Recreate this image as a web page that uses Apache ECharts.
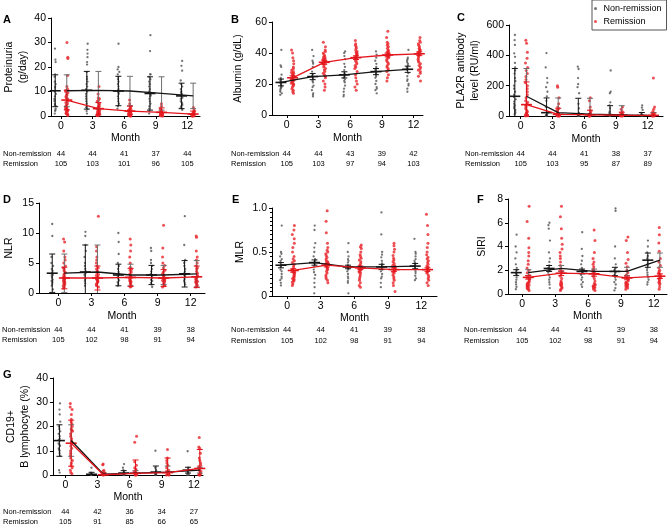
<!DOCTYPE html>
<html><head><meta charset="utf-8">
<script src="https://cdn.jsdelivr.net/npm/echarts@6/dist/echarts.min.js"></script>
<style>html,body{margin:0;padding:0;background:#fff}#c{width:669px;height:527px}</style>
</head><body><div id="c"></div><script>
// ---------------- DATA ----------------
const months = [0, 3, 6, 9, 12];
const monthTickLabels = ['0', '3', '6', '9', '12'];
const rowLabels = ['Non-remission', 'Remission'];

// A: Proteinuria (g/day)
const A_nonRemission = [
  [27.5, 23, 22, 17, 16, 14, 13, 12, 11.5, 10.5, 10, 9, 8, 7, 6.5, 6, 5, 4.5, 4, 3, 2.5, 2, 1],
  [29.5, 27, 25.5, 24, 22, 21, 18, 16, 15, 14, 13, 12, 11, 10, 9, 8, 7, 6, 5, 4, 3.5, 3, 2, 1],
  [29.5, 20, 19, 18, 17, 16, 15, 14, 13, 12, 11, 10.5, 10, 9.5, 9, 8, 7, 6, 5, 4, 3],
  [33, 26.5, 17, 17, 16, 15, 14, 13, 12, 11, 10, 9, 8.5, 8, 7, 6, 5, 4, 3, 2, 1],
  [22.5, 20.5, 18.5, 14.5, 13, 12, 11, 10, 9.5, 9, 8.5, 8, 7.5, 7, 6, 5.5, 5, 4.5, 4, 3.5, 3, 2.5]
];
const A_remission = [
  [30, 24, 23.5, 16.5, 12, 11, 10.5, 10, 9.5, 9, 8.5, 8, 7.5, 7, 6.5, 6, 5.5, 5, 4.5, 4, 3.8, 3.5, 3.2, 3, 2.8, 2.5, 2.2, 2, 1.8, 1.5, 1.2, 1, 0.8, 0.5, 0.2],
  [12, 9, 7.5, 7, 6.5, 6, 5.5, 5, 4.5, 4.2, 4, 3.8, 3.5, 3.2, 3, 2.8, 2.6, 2.4, 2.2, 2, 1.8, 1.6, 1.4, 1.2, 1, 0.8, 0.6, 0.4, 0.2, 0.1, 1.5, 1, 0.5, 0.3],
  [6.5, 5, 4, 3.5, 3, 2.8, 2.5, 2.2, 2, 1.8, 1.6, 1.4, 1.2, 1, 0.9, 0.8, 0.7, 0.6, 0.5, 0.4, 0.3, 0.2, 0.1, 0.1, 0.05, 1.1, 0.7, 0.4, 0.2, 0.1],
  [5, 4, 3, 2.5, 2, 1.8, 1.6, 1.4, 1.2, 1, 0.9, 0.8, 0.7, 0.6, 0.5, 0.4, 0.3, 0.2, 0.1, 0.1, 0.05, 0.9, 0.6, 0.3, 0.2, 0.1],
  [3.5, 2.5, 2, 1.5, 1.2, 1, 0.8, 0.7, 0.6, 0.5, 0.4, 0.3, 0.25, 0.2, 0.15, 0.1, 0.1, 0.05, 0.05, 0.9, 0.6, 0.4, 0.3, 0.2, 0.1]
];
const A_nonRemissionMean = [10.3, 10.5, 10.2, 9.2, 8.2];
const A_nonRemissionErr = [6.5, 7.7, 6.0, 6.8, 5.2];
const A_remissionMean = [6.5, 3.0, 2.0, 1.5, 0.8];
const A_remissionErr = [4, 2.5, 2, 1.8, 1.2];
const A_nonRemissionN = [44, 44, 41, 37, 44];
const A_remissionN = [105, 103, 101, 96, 105];

// B: Albumin (g/dL)
const B_nonRemission = [
  [42, 32, 31, 26, 24, 23, 22, 21, 20.5, 20, 19, 18.5, 18, 17.5, 17, 16, 15, 14, 13],
  [42, 38, 35, 34, 33, 31, 28, 26, 25, 24, 23, 22, 21, 19, 18, 16, 14, 13, 12],
  [41, 40, 38, 36, 33, 31, 29, 27, 26, 25, 24, 23, 22, 21, 19, 17, 15, 13, 12],
  [41, 39, 37, 35, 33, 31, 30, 29, 28, 27, 26, 25, 24, 22, 20, 18, 17, 16, 14],
  [42, 37, 36, 35, 34, 33, 32, 31, 30, 29, 27, 25, 23, 22, 20, 19, 17, 15]
];
const B_remission = [
  [42, 40, 37, 35, 33, 31, 30, 29, 28, 27.5, 27, 26.5, 26, 25.5, 25, 24.5, 24, 23.5, 23, 22.5, 22, 21.5, 21, 20.5, 20, 19.5, 19, 18, 17, 16, 15, 14],
  [47, 44, 42, 41, 40, 39, 38, 37.5, 37, 36.5, 36, 35.5, 35, 34.5, 34, 33.5, 33, 32, 31, 30, 29, 28, 27, 26, 25, 24, 22, 20, 18, 16],
  [48, 46, 45, 44, 43, 42, 41, 40.5, 40, 39.5, 39, 38.5, 38, 37.5, 37, 36.5, 36, 35, 34, 33, 32, 31, 30, 28, 26, 24, 22, 20, 18, 16],
  [54, 50, 47, 46, 45, 44, 43, 42, 41.5, 41, 40.5, 40, 39.5, 39, 38.5, 38, 37.5, 37, 36, 35, 34, 33, 32, 31, 30, 29, 28, 26, 24, 22],
  [50, 48, 47, 46, 45, 44, 43, 42.5, 42, 41.5, 41, 40.5, 40, 39.5, 39, 38.5, 38, 37, 36, 35, 34, 33, 32, 31, 30, 29, 28, 27, 25, 22]
];
const B_nonRemissionMean = [21, 24.8, 25.9, 28, 29.5];
const B_nonRemissionErr = [2.2, 2, 2, 2, 2];
const B_remissionMean = [24, 34, 37, 38.7, 39.5];
const B_remissionErr = [1.3, 1.3, 1.2, 1.2, 1.2];
const B_nonRemissionN = [44, 44, 43, 39, 42];
const B_remissionN = [105, 103, 97, 94, 103];

// C: PLA2R antibody level (RU/ml)
const C_nonRemission = [
  [534, 500, 468, 413, 390, 350, 320, 300, 280, 250, 230, 200, 180, 160, 140, 125, 110, 95, 80, 70, 60, 50, 40, 30, 20, 10],
  [415, 320, 250, 220, 190, 160, 130, 100, 60, 30, 15, 8, 5, 3, 2, 1],
  [325, 310, 250, 210, 190, 150, 80, 50, 20, 10, 5, 3, 2, 1],
  [300, 160, 150, 90, 70, 50, 30, 20, 10, 5, 3, 2, 1],
  [70, 55, 40, 20, 8, 5, 3, 2, 1]
];
const C_remission = [
  [500, 480, 420, 380, 350, 320, 300, 280, 260, 240, 220, 200, 180, 160, 140, 120, 100, 90, 80, 70, 60, 50, 40, 30, 25, 20, 15, 10, 5, 3, 2, 1, 12, 8, 4, 2],
  [200, 190, 120, 80, 60, 50, 40, 30, 20, 15, 10, 8, 5, 3, 2, 1, 1, 0.5, 4, 2, 1],
  [120, 100, 60, 40, 30, 20, 15, 10, 8, 5, 3, 2, 1, 1, 0.5, 4, 2, 1],
  [60, 45, 30, 20, 15, 10, 8, 5, 3, 2, 1, 0.5, 4, 2, 1],
  [250, 60, 45, 30, 20, 15, 10, 8, 5, 3, 2, 1, 0.5, 4, 2, 1]
];
const C_nonRemissionMean = [130, 22, 12, 8, 3];
const C_nonRemissionErr = [183, 97, 105, 60, 20];
const C_remissionMean = [75, 11, 8, 5, 4];
const C_remissionErr = [150, 40, 30, 20, 15];
const C_nonRemissionN = [44, 44, 41, 38, 37];
const C_remissionN = [105, 103, 95, 87, 89];

// D: NLR
const D_nonRemission = [
  [11.5, 9.5, 6, 5, 4.5, 4, 3.7, 3.4, 3.2, 3, 2.8, 2.5, 2.2, 2, 1.8, 1.5, 1.2, 0.6],
  [10.2, 9.5, 8, 7, 6, 5, 4.5, 4, 3.6, 3.2, 3, 2.6, 2.3, 2, 1.6, 1.2],
  [10, 8.5, 6.5, 5, 4.5, 4, 3.5, 3.2, 3, 2.7, 2.4, 2.1, 1.8, 1.5, 1.2],
  [7.5, 7, 5.5, 5, 4.5, 4, 3.6, 3.2, 3, 2.8, 2.5, 2.2, 2, 1.7, 1.4, 1],
  [12.8, 8, 5.5, 5, 4.5, 4, 3.6, 3.3, 3, 2.8, 2.6, 2.3, 2, 1.7, 1.4]
];
const D_remission = [
  [9, 8.5, 7, 6, 5.5, 5, 4.5, 4.2, 4, 3.7, 3.4, 3.2, 3, 2.8, 2.6, 2.5, 2.4, 2.3, 2.2, 2.1, 2, 1.9, 1.8, 1.7, 1.6, 1.5, 1.4, 1.2, 1, 0.8],
  [12.8, 7.7, 7, 6, 5.5, 5, 4.5, 4.2, 4, 3.7, 3.4, 3.1, 2.9, 2.7, 2.5, 2.4, 2.3, 2.2, 2.1, 2, 1.9, 1.8, 1.6, 1.4, 1.2, 1],
  [9, 8, 7, 6, 5, 4.3, 4, 3.8, 3.5, 3.2, 3, 2.8, 2.6, 2.4, 2.2, 2.1, 2, 1.9, 1.8, 1.7, 1.5, 1.3, 1.1, 1],
  [11.3, 7.5, 6, 5, 4.6, 4.2, 3.8, 3.5, 3.2, 3, 2.8, 2.6, 2.4, 2.3, 2.2, 2.1, 2, 1.9, 1.8, 1.6, 1.4, 1.2, 1],
  [9.5, 9.3, 7, 6, 5.5, 5, 4.5, 4.2, 4, 3.6, 3.3, 3, 2.8, 2.6, 2.4, 2.2, 2.1, 2, 1.9, 1.8, 1.7, 1.5, 1.3, 1.1, 1]
];
const D_nonRemissionMean = [3.3, 3.5, 3.0, 3.0, 3.2];
const D_nonRemissionErr = [3.2, 4.5, 1.8, 1.6, 2.2];
const D_remissionMean = [2.5, 2.5, 2.6, 2.5, 2.7];
const D_remissionErr = [1.8, 2.0, 1.5, 1.4, 1.8];
const D_nonRemissionN = [44, 44, 41, 39, 38];
const D_remissionN = [105, 102, 98, 91, 94];

// E: MLR
const E_nonRemission = [
  [0.8, 0.5, 0.48, 0.45, 0.42, 0.4, 0.38, 0.35, 0.33, 0.3, 0.28, 0.25, 0.22, 0.2, 0.18, 0.15, 0.12],
  [0.8, 0.75, 0.6, 0.55, 0.5, 0.45, 0.42, 0.4, 0.38, 0.36, 0.34, 0.3, 0.27, 0.24, 0.2, 0.15, 0.1, 0.03],
  [0.6, 0.5, 0.45, 0.42, 0.4, 0.38, 0.35, 0.33, 0.31, 0.3, 0.28, 0.25, 0.22, 0.2, 0.17, 0.15, 0.03],
  [0.95, 0.7, 0.5, 0.47, 0.44, 0.4, 0.37, 0.35, 0.32, 0.3, 0.28, 0.25, 0.22, 0.2, 0.15, 0.1],
  [0.65, 0.5, 0.48, 0.45, 0.42, 0.4, 0.38, 0.36, 0.34, 0.32, 0.3, 0.28, 0.26, 0.23, 0.2, 0.18]
];
const E_remission = [
  [0.8, 0.75, 0.7, 0.65, 0.6, 0.55, 0.5, 0.45, 0.42, 0.4, 0.38, 0.36, 0.34, 0.32, 0.3, 0.29, 0.28, 0.27, 0.26, 0.25, 0.24, 0.23, 0.22, 0.21, 0.2, 0.19, 0.18, 0.17, 0.16, 0.14, 0.12],
  [0.97, 0.85, 0.72, 0.6, 0.55, 0.52, 0.5, 0.48, 0.46, 0.44, 0.42, 0.4, 0.39, 0.38, 0.37, 0.36, 0.35, 0.34, 0.33, 0.32, 0.31, 0.3, 0.28, 0.26, 0.24, 0.22, 0.2, 0.18, 0.15],
  [0.58, 0.56, 0.54, 0.5, 0.47, 0.45, 0.43, 0.41, 0.39, 0.37, 0.35, 0.34, 0.33, 0.32, 0.31, 0.3, 0.29, 0.28, 0.27, 0.26, 0.24, 0.22, 0.2, 0.18, 0.15, 0.12, 0.1],
  [0.6, 0.57, 0.53, 0.5, 0.46, 0.43, 0.41, 0.39, 0.37, 0.35, 0.34, 0.33, 0.32, 0.31, 0.3, 0.29, 0.28, 0.27, 0.26, 0.24, 0.22, 0.2, 0.18, 0.15, 0.12, 0.05],
  [0.93, 0.8, 0.7, 0.6, 0.55, 0.5, 0.47, 0.44, 0.42, 0.4, 0.38, 0.36, 0.34, 0.33, 0.32, 0.31, 0.3, 0.29, 0.28, 0.27, 0.26, 0.24, 0.22, 0.2, 0.18, 0.15, 0.12]
];
const E_nonRemissionMean = [0.35, 0.38, 0.33, 0.33, 0.34];
const E_nonRemissionErr = [0.03, 0.03, 0.02, 0.03, 0.03];
const E_remissionMean = [0.29, 0.35, 0.32, 0.30, 0.30];
const E_remissionErr = [0.02, 0.02, 0.02, 0.02, 0.02];
const E_nonRemissionN = [44, 44, 41, 39, 38];
const E_remissionN = [105, 102, 98, 91, 94];

// F: SIRI
const F_nonRemission = [
  [5, 4, 3.5, 3, 2.5, 2.2, 2, 1.8, 1.7, 1.6, 1.4, 1.2, 1, 0.8, 0.6, 0.4],
  [6, 5.8, 5.5, 4.5, 3.5, 3, 2.7, 2.4, 2.2, 2.1, 2, 1.8, 1.6, 1.4, 1.2, 1, 0.8, 0.5],
  [5.2, 3.8, 3.2, 2.8, 2.5, 2.2, 2, 1.9, 1.8, 1.6, 1.4, 1.2, 1, 0.8, 0.6],
  [7.2, 7, 4, 3, 2.5, 2.2, 2, 1.8, 1.6, 1.4, 1.2, 1, 0.8, 0.5, 0.3],
  [4.5, 4, 3.5, 3.2, 3, 2.8, 2.6, 2.4, 2.2, 2, 1.8, 1.6, 1.4, 1.2, 1, 0.8]
];
const F_remission = [
  [7.4, 6.1, 4.7, 3.9, 3.5, 3.2, 2.8, 2.5, 2.2, 2, 1.8, 1.6, 1.4, 1.3, 1.2, 1.1, 1, 0.95, 0.9, 0.85, 0.8, 0.75, 0.7, 0.65, 0.6, 0.55, 0.5, 0.45, 0.4, 0.3],
  [7.4, 6.5, 5.5, 4.7, 4.2, 3.8, 3.5, 3.2, 3, 2.7, 2.4, 2.1, 1.9, 1.8, 1.7, 1.5, 1.3, 1.1, 1, 0.9, 0.85, 0.8, 0.75, 0.7, 0.6, 0.5, 0.4, 0.3],
  [5.4, 4.5, 3.5, 3, 2.7, 2.5, 2.3, 2.1, 2, 1.9, 1.8, 1.7, 1.5, 1.3, 1.1, 0.9, 0.8, 0.75, 0.7, 0.65, 0.6, 0.55, 0.5, 0.4, 0.3],
  [4.8, 4.5, 3.5, 2.9, 2.6, 2.3, 2, 1.8, 1.6, 1.4, 1.2, 1.1, 1, 0.95, 0.9, 0.85, 0.8, 0.75, 0.7, 0.65, 0.6, 0.5, 0.4],
  [5.6, 5, 4.3, 3.6, 3, 2.7, 2.4, 2.2, 2, 1.9, 1.8, 1.7, 1.6, 1.5, 1.4, 1.3, 1.2, 1.1, 1, 0.9, 0.8, 0.6, 0.4]
];
const F_nonRemissionMean = [1.8, 2.15, 1.9, 1.9, 2.85];
const F_nonRemissionErr = [0.25, 0.25, 0.2, 0.35, 0.6];
const F_remissionMean = [1.4, 1.75, 1.7, 1.35, 1.5];
const F_remissionErr = [0.15, 0.2, 0.2, 0.15, 0.2];
const F_nonRemissionN = [44, 44, 41, 39, 38];
const F_remissionN = [105, 102, 98, 91, 94];

// G: CD19+ B lymphocyte (%)
const G_nonRemission = [
  [29.5, 27, 25, 22, 20, 19, 18, 17, 16, 15, 14.5, 14, 13, 12.5, 12, 11, 10.5, 10, 9, 8, 2, 1],
  [3, 1, 0.6, 0.4, 0.3, 0.2, 0.1, 0.1, 0],
  [4.5, 3, 2, 1.5, 1, 0.6, 0.4, 0.2, 0.1, 0],
  [10, 3, 2, 1.2, 0.8, 0.5, 0.3, 0.1, 0],
  [9.8, 3, 2.2, 1.5, 1, 0.6, 0.3, 0.1, 0]
];
const G_remission = [
  [29.5, 28, 27, 25, 23, 22, 21, 20, 19, 18.5, 18, 17, 16, 15, 14, 13.5, 13, 12, 11, 10, 9, 8, 7, 6, 5, 4, 3, 2, 1, 0.5],
  [4.5, 4.2, 2, 1.5, 1, 0.7, 0.5, 0.3, 0.2, 0.1, 0.1, 0],
  [16, 13.5, 5.5, 4, 3, 2.5, 2, 1.5, 1, 0.7, 0.5, 0.3, 0.2, 0.1, 0, 0],
  [10.5, 7, 6, 5, 4, 3, 2, 1.5, 1, 0.7, 0.5, 0.3, 0.2, 0.1, 0, 0],
  [15.5, 11.5, 11, 9, 7, 6, 5, 4, 3.5, 3, 2.5, 2, 1.5, 1, 0.5, 0.3, 0.1, 0, 0]
];
const G_nonRemissionMean = [14.2, 0.3, 0.8, 1.2, 2.0];
const G_nonRemissionErr = [6.5, 0.8, 1.0, 2.5, 1.2];
const G_remissionMean = [13.1, 0.1, 0.7, 1.0, 2.7];
const G_remissionErr = [9.5, 0.8, 5.5, 6.0, 7.8];
const G_nonRemissionN = [44, 42, 36, 34, 27];
const G_remissionN = [105, 91, 85, 66, 65];

// ---------------- BUILD ----------------
const panelData = {
  A: {nr: A_nonRemission, r: A_remission, nrMean: A_nonRemissionMean, nrErr: A_nonRemissionErr, rMean: A_remissionMean, rErr: A_remissionErr, nrN: A_nonRemissionN, rN: A_remissionN},
  B: {nr: B_nonRemission, r: B_remission, nrMean: B_nonRemissionMean, nrErr: B_nonRemissionErr, rMean: B_remissionMean, rErr: B_remissionErr, nrN: B_nonRemissionN, rN: B_remissionN},
  C: {nr: C_nonRemission, r: C_remission, nrMean: C_nonRemissionMean, nrErr: C_nonRemissionErr, rMean: C_remissionMean, rErr: C_remissionErr, nrN: C_nonRemissionN, rN: C_remissionN},
  D: {nr: D_nonRemission, r: D_remission, nrMean: D_nonRemissionMean, nrErr: D_nonRemissionErr, rMean: D_remissionMean, rErr: D_remissionErr, nrN: D_nonRemissionN, rN: D_remissionN},
  E: {nr: E_nonRemission, r: E_remission, nrMean: E_nonRemissionMean, nrErr: E_nonRemissionErr, rMean: E_remissionMean, rErr: E_remissionErr, nrN: E_nonRemissionN, rN: E_remissionN},
  F: {nr: F_nonRemission, r: F_remission, nrMean: F_nonRemissionMean, nrErr: F_nonRemissionErr, rMean: F_remissionMean, rErr: F_remissionErr, nrN: F_nonRemissionN, rN: F_remissionN},
  G: {nr: G_nonRemission, r: G_remission, nrMean: G_nonRemissionMean, nrErr: G_nonRemissionErr, rMean: G_remissionMean, rErr: G_remissionErr, nrN: G_nonRemissionN, rN: G_remissionN}
};

const layout = [
  {key: 'A', left: 51, top: 18, width: 149, height: 98, xMin: -0.95, xMax: 13.2, yMax: 40, yInt: 10, yName: 'Proteinuria\n(g/day)', yNameGap: 18, monthGap: 16, countOff: [34, 44], rowX: 3, letterX: 3, letterY: 14, lineMode: 'red', lineBars: true},
  {key: 'B', left: 272, top: 22, width: 151, height: 93, xMin: -1.4, xMax: 12.9, yMax: 60, yInt: 20, yName: 'Albumin (g/dL)', yNameGap: 27, monthGap: 18, countOff: [34.5, 44.5], rowX: 231, letterX: 231, letterY: 14, lineMode: 'own', lineBars: false},
  {key: 'C', left: 509, top: 25, width: 154, height: 91, xMin: -1.1, xMax: 13.45, yMax: 600, yInt: 200, yName: 'PLA2R antibody\nlevel (RU/ml)', yNameGap: 23, monthGap: 18, countOff: [34, 44], rowX: 465, letterX: 457, letterY: 12, lineMode: 'red', lineBars: true},
  {key: 'D', left: 39, top: 203, width: 166, height: 90, xMin: -1.75, xMax: 13.3, yMax: 15, yInt: 5, yName: 'NLR', yNameGap: 23, monthGap: 17.5, countOff: [32.7, 43.4], rowX: 2, letterX: 3, letterY: 194, lineMode: 'red', lineBars: true},
  {key: 'E', left: 272, top: 208, width: 165, height: 88, xMin: -1.35, xMax: 13.4, yMax: 1, yInt: 0.5, yName: 'MLR', yNameGap: 25, monthGap: 15, countOff: [30.3, 41], rowX: 231, letterX: 232, letterY: 194, lineMode: 'own', lineBars: false, minor: true, yFmt: function (v) { return v === 0 ? '0' : v.toFixed(1); }},
  {key: 'F', left: 508, top: 199, width: 159, height: 95, xMin: -1.3, xMax: 13.2, yMax: 8, yInt: 2, yName: 'SIRI', yNameGap: 19, monthGap: 17, countOff: [32, 42.7], rowX: 464, letterX: 477, letterY: 194, lineMode: 'red', lineBars: true},
  {key: 'G', left: 53, top: 378, width: 150, height: 97, xMin: -1.15, xMax: 12.85, yMax: 40, yInt: 10, yName: 'CD19+\nB lymphocyte (%)', yNameGap: 20, monthGap: 16, countOff: [32.7, 42.7], rowX: 3, letterX: 3, letterY: 369, lineMode: 'red', lineBars: true}
];

const FONT = '"Liberation Sans", Arial, Helvetica, sans-serif';
const BLACK = '#151515', RED = '#e3161d', BLACK_PT = '#505050', RED_PT = '#e8262c', BAR_GRAY = '#6e6e6e';
const STEP = 0.05, OFF_NR = -0.55, OFF_R = 0.55;

function makeBar(color, withMean) {
  return function (params, api) {
    const x = api.value(0), m = api.value(1), e = api.value(2);
    const c = api.coord([x, m]);
    const t = api.coord([x, m + e]);
    const b = api.coord([x, Math.max(m - e, 0)]);
    const st = {stroke: color, lineWidth: 1};
    const ch = [
      {type: 'line', shape: {x1: c[0], y1: t[1], x2: c[0], y2: b[1]}, style: st},
      {type: 'line', shape: {x1: c[0] - 3, y1: t[1], x2: c[0] + 3, y2: t[1]}, style: st}
    ];
    if (m - e > 0) ch.push({type: 'line', shape: {x1: c[0] - 3, y1: b[1], x2: c[0] + 3, y2: b[1]}, style: st});
    if (withMean) ch.push({type: 'line', shape: {x1: c[0] - 5.5, y1: c[1], x2: c[0] + 5.5, y2: c[1]}, style: {stroke: color, lineWidth: 1.6}});
    return {type: 'group', children: ch};
  };
}

const option = {
  animation: false,
  textStyle: {fontFamily: FONT},
  grid: [], xAxis: [], yAxis: [], series: [], graphic: [],
  legend: {
    data: ['Non-remission', 'Remission'], orient: 'vertical', left: 592, top: 0,
    icon: 'circle', itemWidth: 6, itemHeight: 3, itemGap: 2, padding: [3, 5, 3, 2],
    borderColor: '#555', borderWidth: 1, selectedMode: false,
    textStyle: {fontSize: 9, color: '#000', fontFamily: FONT, lineHeight: 11}
  }
};

layout.forEach(function (L, gi) {
  const D = panelData[L.key];
  option.grid.push({left: L.left, top: L.top, width: L.width, height: L.height, containLabel: false, outerBoundsMode: 'none'});
  const xBase = option.xAxis.length;
  // visible month axis
  option.xAxis.push({
    type: 'value', gridIndex: gi, min: L.xMin, max: L.xMax, position: 'bottom',
    axisLine: {show: true, onZero: false, lineStyle: {color: '#000', width: 1}},
    axisTick: {show: true, length: 3, customValues: months, lineStyle: {color: '#000'}},
    axisLabel: {customValues: months, formatter: function (v) { return monthTickLabels[months.indexOf(v)]; }, fontSize: 10.5, color: '#000', margin: 5},
    splitLine: {show: false},
    name: 'Month', nameLocation: 'middle', nameGap: L.monthGap, nameTextStyle: {fontSize: 10.5, color: '#000'}
  });
  // hidden category axes used for jittered dots (non-remission, remission)
  const nCat = Math.round((L.xMax - L.xMin) / STEP) + 1;
  [8, 12].forEach(function (jit) {
    option.xAxis.push({
      type: 'category', gridIndex: gi, show: false, boundaryGap: false, position: 'top',
      data: Array.from({length: nCat}, function (_, i) { return String(i); }),
      jitter: jit, jitterOverlap: false, jitterMargin: 0.2
    });
  });
  // count rows
  [D.nrN, D.rN].forEach(function (counts, k) {
    option.xAxis.push({
      type: 'value', gridIndex: gi, min: L.xMin, max: L.xMax, position: 'bottom', offset: L.countOff[k],
      axisLine: {show: false, onZero: false}, axisTick: {show: false}, splitLine: {show: false},
      axisLabel: {customValues: months, formatter: function (v) { return String(counts[months.indexOf(v)]); }, fontSize: 7.5, color: '#000', margin: 0}
    });
  });
  option.yAxis.push({
    type: 'value', gridIndex: gi, min: 0, max: L.yMax, interval: L.yInt,
    axisLine: {show: true, onZero: false, lineStyle: {color: '#000'}},
    axisTick: {show: true, length: 3, lineStyle: {color: '#000'}},
    minorTick: L.minor ? {show: true, splitNumber: 10, length: 2, lineStyle: {color: '#000'}} : {show: false},
    axisLabel: Object.assign({fontSize: 10.5, color: '#000', margin: 5}, L.yFmt ? {formatter: L.yFmt} : {}),
    splitLine: {show: false},
    name: L.yName, nameLocation: 'middle', nameRotate: 90, nameGap: L.yNameGap,
    nameTextStyle: {fontSize: 10.5, color: '#000', lineHeight: 14}
  });
  const toCat = function (x) { return Math.round((x - L.xMin) / STEP); };
  const nrPts = [], rPts = [];
  D.nr.forEach(function (vals, i) { vals.forEach(function (v) { nrPts.push([toCat(months[i] + OFF_NR), v]); }); });
  D.r.forEach(function (vals, i) { vals.forEach(function (v) { rPts.push([toCat(months[i] + OFF_R), v]); }); });
  option.series.push({type: 'scatter', name: 'Non-remission', xAxisIndex: xBase + 1, yAxisIndex: gi, data: nrPts, symbol: 'circle', symbolSize: 2.3, itemStyle: {color: BLACK_PT}, z: 2, silent: true});
  option.series.push({type: 'scatter', name: 'Remission', xAxisIndex: xBase + 2, yAxisIndex: gi, data: rPts, symbol: 'circle', symbolSize: 3, itemStyle: {color: RED_PT}, z: 2, silent: true});
  // group mean +/- error markers
  option.series.push({type: 'custom', xAxisIndex: xBase, yAxisIndex: gi, silent: true, z: 4,
    data: months.map(function (m, i) { return [m + OFF_NR, D.nrMean[i], D.nrErr[i]]; }), renderItem: makeBar(BLACK, true)});
  option.series.push({type: 'custom', xAxisIndex: xBase, yAxisIndex: gi, silent: true, z: 4,
    data: months.map(function (m, i) { return [m + OFF_R, D.rMean[i], D.rErr[i]]; }), renderItem: makeBar(RED, true)});
  // mean lines
  const lxNR = L.lineMode === 'own' ? OFF_NR : OFF_R;
  if (L.lineBars) {
    option.series.push({type: 'custom', xAxisIndex: xBase, yAxisIndex: gi, silent: true, z: 3,
      data: months.map(function (m, i) { return [m + lxNR, D.nrMean[i], D.nrErr[i]]; }), renderItem: makeBar(BAR_GRAY, false)});
  }
  option.series.push({type: 'line', xAxisIndex: xBase, yAxisIndex: gi, silent: true, z: 5, symbol: 'none', showSymbol: false,
    data: months.map(function (m, i) { return [m + lxNR, D.nrMean[i]]; }), lineStyle: {color: BLACK, width: 1.3}});
  option.series.push({type: 'line', xAxisIndex: xBase, yAxisIndex: gi, silent: true, z: 5, symbol: 'none', showSymbol: false,
    data: months.map(function (m, i) { return [m + OFF_R, D.rMean[i]]; }), lineStyle: {color: RED, width: 1.3}});
  // panel letter and count-row labels
  option.graphic.push({type: 'text', left: L.letterX, top: L.letterY, style: {text: L.key, font: 'bold 11px ' + FONT, fill: '#000'}});
  rowLabels.forEach(function (t, k) {
    option.graphic.push({type: 'text', left: L.rowX, top: L.top + L.height + L.countOff[k], style: {text: t, font: '7.5px ' + FONT, fill: '#000'}});
  });
});

const chart = echarts.init(document.getElementById('c'), null, {renderer: 'canvas'});
chart.setOption(option);
</script></body></html>
